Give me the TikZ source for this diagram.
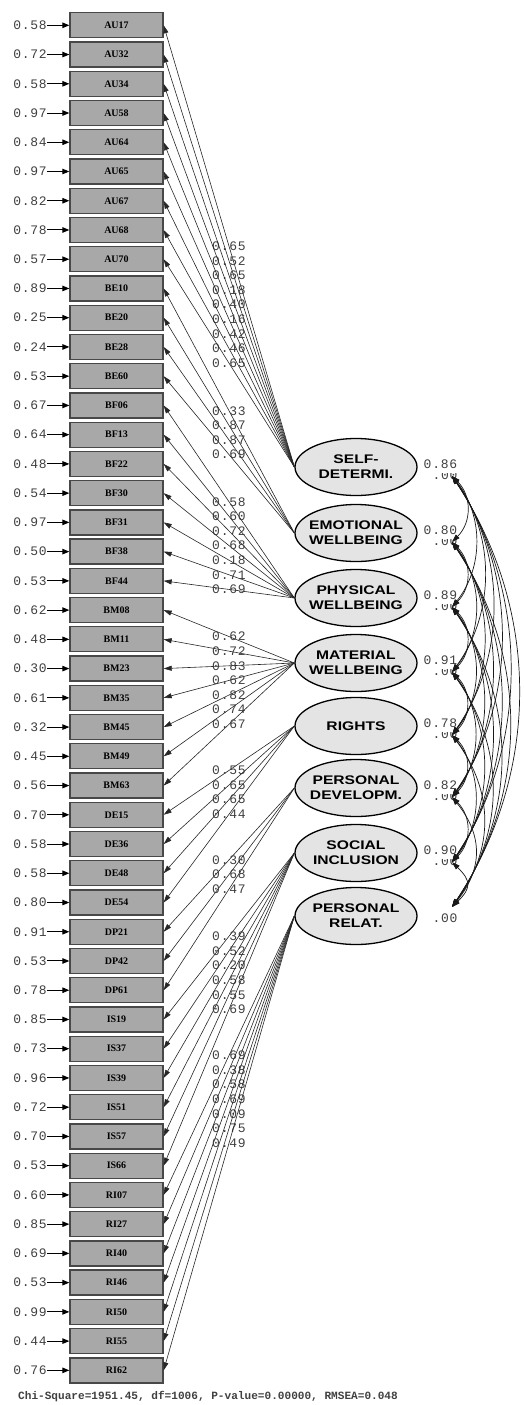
\documentclass[tikz,border=0pt]{standalone}
\usepackage{fontspec}
\usetikzlibrary{arrows.meta,shapes.geometric,calc}
\newfontfamily\numfont[LetterSpace=6]{Liberation Mono}
\newfontfamily\fitfont{Liberation Mono}
\newfontfamily\latfont[FakeStretch=1.25]{Liberation Sans}
\newfontfamily\obsfont{Liberation Serif}
\definecolor{boxfill}{HTML}{A8A8A8}
\definecolor{boxline}{HTML}{484848}
\definecolor{latfill}{HTML}{E4E4E4}
\definecolor{numgray}{HTML}{404040}
\begin{document}
\begin{tikzpicture}[x=1pt,y=-1pt,
  obsbox/.style={draw=boxline,fill=boxfill,line width=1.3pt,minimum width=93pt,
    minimum height=25pt,inner sep=0pt,font=\obsfont\bfseries\fontsize{10}{10}\selectfont},
  latent/.style={ellipse,draw,fill=latfill,line width=1.3pt,minimum width=122pt,
    minimum height=57pt,inner sep=-22pt,align=center,
    font=\latfont\bfseries\fontsize{12.5}{15}\selectfont},
  numlbl/.style={font=\numfont\fontsize{13}{13}\selectfont,text=numgray,inner sep=0pt},
  loadpath/.style={draw=black!85,line width=0.6pt,-{Triangle[length=8pt,width=5pt]}},
  errpath/.style={line width=1pt,-{Triangle[length=7pt,width=5.5pt]}},
  corrpath/.style={draw=black!90,line width=0.7pt,
    {Triangle[length=8pt,width=5pt]}-{Triangle[length=8pt,width=5pt]}}]
\useasboundingbox (0,0) rectangle (523,1405);

% latent factors
\foreach \i/\cy/\txt in {1/467/{SELF-\\DETERMI.},2/533/{EMOTIONAL\\WELLBEING},
    3/598/{PHYSICAL\\WELLBEING},4/663/{MATERIAL\\WELLBEING},5/726/{RIGHTS},
    6/788/{PERSONAL\\DEVELOPM.},7/853/{SOCIAL\\INCLUSION}}{
  \node[latent] (L\i) at (356,\cy) {\txt};
  \coordinate (r\i) at (452,{\cy+9});
}
\node[latent] (L8) at (356,916) {PERSONAL\\RELAT.};
\coordinate (r8) at (452,907);

% factor labels on the right, each over a partly hidden ".00"
\foreach \i/\cy/\val in {1/467/0.86,2/533/0.80,3/598/0.89,4/663/0.91,5/726/0.78,
    6/788/0.82,7/853/0.90}{
  \begin{scope}
    \clip (428,{\cy+6.5}) rectangle (462,{\cy+14});
    \node[numlbl] (z\i) at (445,{\cy+8.5}) {.00};
  \end{scope}
  \node[numlbl] (v\i) at (440.5,{\cy-2.5}) {\val};
}
\node[numlbl] (z8) at (445,918) {.00};

% observed indicators, error variances and loadings
\foreach \k/\nm/\er/\f/\ld in {
  1/AU17/0.58/1/0.65, 2/AU32/0.72/1/0.52, 3/AU34/0.58/1/0.65, 4/AU58/0.97/1/0.18,
  5/AU64/0.84/1/0.40, 6/AU65/0.97/1/0.16, 7/AU67/0.82/1/0.42, 8/AU68/0.78/1/0.46,
  9/AU70/0.57/1/0.65,
  10/BE10/0.89/2/0.33, 11/BE20/0.25/2/0.87, 12/BE28/0.24/2/0.87, 13/BE60/0.53/2/0.69,
  14/BF06/0.67/3/0.58, 15/BF13/0.64/3/0.60, 16/BF22/0.48/3/0.72, 17/BF30/0.54/3/0.68,
  18/BF31/0.97/3/0.18, 19/BF38/0.50/3/0.71, 20/BF44/0.53/3/0.69,
  21/BM08/0.62/4/0.62, 22/BM11/0.48/4/0.72, 23/BM23/0.30/4/0.83, 24/BM35/0.61/4/0.62,
  25/BM45/0.32/4/0.82, 26/BM49/0.45/4/0.74, 27/BM63/0.56/4/0.67,
  28/DE15/0.70/5/0.55, 29/DE36/0.58/5/0.65, 30/DE48/0.58/5/0.65, 31/DE54/0.80/5/0.44,
  32/DP21/0.91/6/0.30, 33/DP42/0.53/6/0.68, 34/DP61/0.78/6/0.47,
  35/IS19/0.85/7/0.39, 36/IS37/0.73/7/0.52, 37/IS39/0.96/7/0.20, 38/IS51/0.72/7/0.58,
  39/IS57/0.70/7/0.55, 40/IS66/0.53/7/0.69,
  41/RI07/0.60/8/0.69, 42/RI27/0.85/8/0.38, 43/RI40/0.69/8/0.58, 44/RI46/0.53/8/0.69,
  45/RI50/0.99/8/0.09, 46/RI55/0.44/8/0.75, 47/RI62/0.76/8/0.49}{
  \pgfmathsetmacro\yy{25.3+29.24*(\k-1)}
  \node[obsbox] (b\k) at (116.5,\yy) {\nm};
  \node[numlbl,anchor=east] (e\k) at (47,\yy) {\er};
  \draw[errpath] (e\k.east) -- (b\k.west);
  \draw[loadpath] (L\f.west) -- node[numlbl]{\ld} (b\k.east);
}

% correlations between factors
\foreach \i/\ci in {1/467,2/533,3/598,4/663,5/726,6/788,7/853,8/916}{
  \foreach \j/\cj in {1/467,2/533,3/598,4/663,5/726,6/788,7/853,8/916}{
    \ifnum\j>\i
      \pgfmathsetmacro\h{8+0.18*(\cj-\ci)}
      \pgfmathsetmacro\v{0.3*(\cj-\ci)}
      \draw[corrpath] (r\i) .. controls ($(r\i)+(\h,\v)$) and ($(r\j)+(\h,-\v)$) .. (r\j);
    \fi
  }
}

% fit statistics
\node[font=\fitfont\bfseries\fontsize{11.1}{12}\selectfont,text=numgray,anchor=west,inner sep=0pt]
  (fit) at (18,1397) {Chi-Square=1951.45, df=1006, P-value=0.00000, RMSEA=0.048};
\end{tikzpicture}
\end{document}
